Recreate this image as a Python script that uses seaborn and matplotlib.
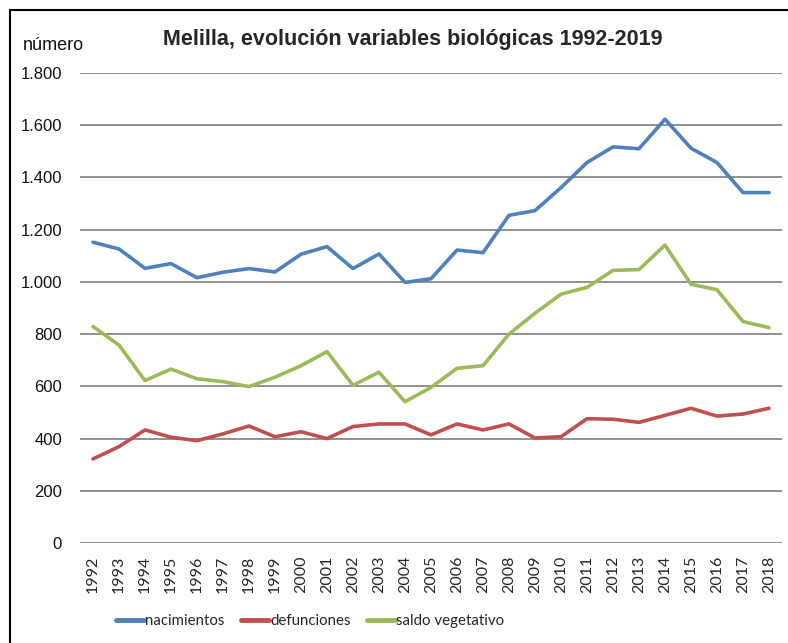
import matplotlib
matplotlib.use("Agg")
import matplotlib.pyplot as plt
import seaborn as sns
import pandas as pd
from matplotlib.patches import Rectangle
from matplotlib.ticker import FuncFormatter

years = [str(y) for y in range(1992, 2019)]
nacimientos = [1152, 1126, 1052, 1070, 1016, 1037, 1051, 1038, 1106, 1135, 1051, 1107, 998, 1012,
               1122, 1112, 1255, 1273, 1361, 1457, 1517, 1510, 1623, 1512, 1457, 1342, 1342]
defunciones = [322, 369, 433, 405, 392, 418, 448, 407, 426, 400, 446, 456, 456, 414,
               456, 433, 456, 402, 407, 476, 474, 462, 489, 516, 486, 494, 516]
saldo = [829, 758, 622, 666, 629, 618, 599, 635, 679, 733, 604, 654, 541, 596,
         669, 679, 800, 880, 953, 979, 1044, 1047, 1141, 991, 970, 848, 825]
series_names = ["nacimientos", "defunciones", "saldo vegetativo"]
colors = ["#4F81BD", "#C0504D", "#9BBB59"]

df = pd.DataFrame({"año": years * 3,
                   "valor": nacimientos + defunciones + saldo,
                   "serie": [s for s in series_names for _ in years]})

sns.set_style("white")
plt.rcParams["font.family"] = ["Liberation Sans", "DejaVu Sans"]

W, H = 788, 643
fig = plt.figure(figsize=(W / 100, H / 100), dpi=100)
ax = fig.add_axes([80 / W, 1 - 543 / H, (782 - 80) / W, (543 - 73) / H])

sns.lineplot(data=df, x="año", y="valor", hue="serie", palette=colors, linewidth=2.6,
             ax=ax, legend=True, sort=False)

ax.set_ylim(0, 1800)
ax.set_xlim(-0.5, len(years) - 0.5)
ax.set_yticks(range(0, 1801, 200))
ax.yaxis.set_major_formatter(FuncFormatter(lambda v, p: f"{int(v):,}".replace(",", ".")))
ax.grid(axis="y", color="#888888", linewidth=1.3)
ax.grid(axis="x", visible=False)
for s in ax.spines.values():
    s.set_visible(False)
ax.set_xlabel("")
ax.set_ylabel("")
ax.tick_params(axis="y", length=0, pad=13, labelsize=12, labelcolor="#111111")
ax.tick_params(axis="x", length=0, pad=9, labelsize=11.5, labelrotation=90)
for lbl in ax.get_xticklabels():
    lbl.set_family(["Lato", "DejaVu Sans"])

leg = ax.legend(loc="center", bbox_to_anchor=(310 / W, 1 - 621 / H), bbox_transform=fig.transFigure,
                ncol=3, frameon=False, handlelength=1.9, handletextpad=0.05, columnspacing=1.1,
                prop={"family": ["Lato", "DejaVu Sans"], "size": 10.8})
for line in leg.get_lines():
    line.set_linewidth(3.5)

fig.text(413 / W, 1 - 40 / H, "Melilla, evolución variables biológicas 1992-2019",
         ha="center", va="center", fontsize=15.5, fontweight="bold")
fig.text(23 / W, 1 - 45 / H, "número", ha="left", va="center", fontsize=13, color="#111111")

fig.patches.append(Rectangle((10 / W, -0.1), 1.2, 1 - 10 / H + 0.1, transform=fig.transFigure,
                             fill=False, edgecolor="black", linewidth=1.5))

fig.savefig("out.png", dpi=100, facecolor="white")
